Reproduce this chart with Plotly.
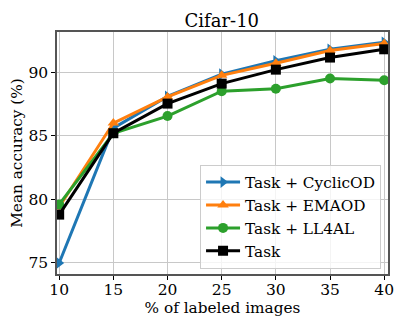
import plotly.graph_objects as go

labeled_pct = [10, 15, 20, 25, 30, 35, 40]

cyclicod = [75.0, 85.6, 88.1, 89.85, 90.9, 91.8, 92.35]
emaod = [79.4, 86.0, 88.05, 89.75, 90.7, 91.7, 92.25]
ll4al = [79.6, 85.2, 86.55, 88.5, 88.7, 89.5, 89.37]
task = [78.8, 85.2, 87.53, 89.1, 90.2, 91.15, 91.8]

series = [
    ("Task + CyclicOD", cyclicod, "#1f77b4", "triangle-right"),
    ("Task + EMAOD", emaod, "#ff7f0e", "triangle-up"),
    ("Task + LL4AL", ll4al, "#2ca02c", "circle"),
    ("Task", task, "black", "square"),
]

font = "DejaVu Serif"

fig = go.Figure()

for name, vals, color, symbol in series:
    fig.add_trace(
        go.Scatter(
            x=labeled_pct,
            y=vals,
            mode="lines+markers",
            name=name,
            line=dict(color=color, width=3),
            marker=dict(symbol=symbol, size=10, color=color),
        )
    )

axis_common = dict(
    showgrid=True,
    gridcolor="#c8c8c8",
    gridwidth=1,
    showline=True,
    linecolor="#555555",
    linewidth=1.5,
    mirror=True,
    ticks="outside",
    ticklen=4,
    tickcolor="black",
    zeroline=False,
    automargin=False,
    tickfont=dict(family=font, size=15.5, color="black"),
)

fig.update_xaxes(
    range=[9.8, 40.35],
    tickvals=labeled_pct,
    ticklabelstandoff=-3,
    title=dict(text="% of labeled images", font=dict(family=font, size=15.3, color="black"), standoff=2),
    **axis_common,
)
fig.update_yaxes(
    range=[74.13, 93.16],
    tickvals=[75, 80, 85, 90],
    title=dict(text="Mean accuracy (%)", font=dict(family=font, size=15.3, color="black"), standoff=2),
    **axis_common,
)

fig.update_layout(
    width=407,
    height=326,
    template="plotly_white",
    plot_bgcolor="white",
    paper_bgcolor="white",
    title=dict(
        text="Cifar-10",
        x=0.545,
        xanchor="center",
        y=0.935,
        yanchor="middle",
        font=dict(family=font, size=18, color="black"),
    ),
    legend=dict(
        x=0.979,
        y=0.022,
        xanchor="right",
        yanchor="bottom",
        bgcolor="rgba(255,255,255,0.8)",
        bordercolor="#cccccc",
        borderwidth=1,
        itemwidth=34,
        font=dict(family=font, size=15.3, color="black"),
        tracegroupgap=0,
    ),
    margin=dict(
        l=57,
        r=19,
        t=32,
        b=52,
    ),
)

# page body has an 8px default margin, drop it so the figure sits at 0,0
fig.write_html(
    "out.html",
    config={"displayModeBar": False},
    post_script="document.body.style.margin='0';",
)
